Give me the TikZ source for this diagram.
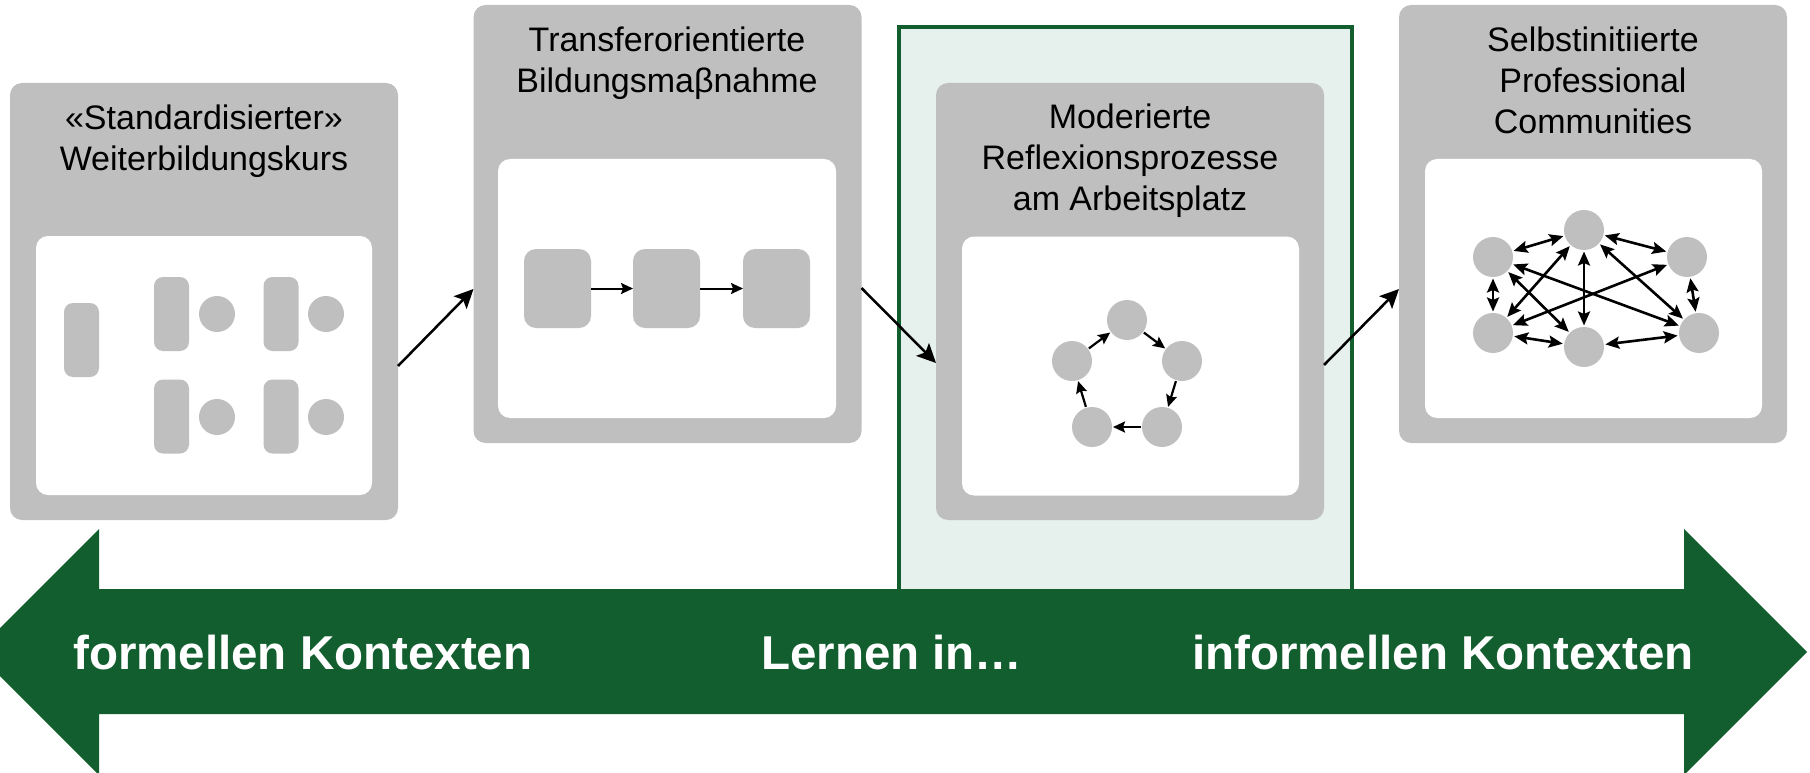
\documentclass[tikz,border=0pt]{standalone}
\usepackage{fontspec}
\setmainfont{Liberation Sans}
\usetikzlibrary{arrows.meta,calc,shapes.geometric}
\definecolor{boxgray}{RGB}{191,191,191}
\definecolor{dkgreen}{RGB}{18,94,47}
\definecolor{mint}{RGB}{230,240,236}
\begin{document}
\begin{tikzpicture}[x=1pt,y=-1pt,
  outerbox/.style={rectangle, fill=boxgray, rounded corners=12pt, inner sep=0, outer sep=0, minimum width=388pt},
  innerbox/.style={rectangle, fill=white, rounded corners=12pt, inner sep=0, outer sep=0},
  boxtitle/.style={inner sep=0, align=center, anchor=north, text=black, font=\fontsize{34}{41}\selectfont},
  pill/.style={rectangle, fill=boxgray, rounded corners=9pt, inner sep=0, outer sep=0},
  graydot/.style={circle, fill=boxgray, inner sep=0, outer sep=0, minimum size=36pt},
  pentnode/.style={circle, fill=boxgray, inner sep=0, outer sep=1pt, minimum size=40pt},
  netnode/.style={circle, fill=boxgray, inner sep=0, outer sep=1.5pt, minimum size=40pt},
  bigarrow/.style={line width=2.5pt, -{Stealth[length=19pt,width=18pt,inset=4pt]}},
  smallarrow/.style={line width=2pt, -{Stealth[length=12pt,width=11pt,inset=2pt]}},
  pentarrow/.style={line width=2.2pt, -{Stealth[length=12pt,width=11pt,inset=2pt]}},
  netarrow/.style={line width=2.6pt, {Stealth[length=14pt,width=12pt,inset=2.5pt]}-{Stealth[length=14pt,width=12pt,inset=2.5pt]}},
  bandtext/.style={inner sep=0, anchor=base west, text=white, font=\bfseries\fontsize{47.5}{50}\selectfont}
]
\useasboundingbox (0,0) rectangle (1810,773);
\clip (0,0) rectangle (1810,773);

% highlighted focus area
\node[rectangle, draw=dkgreen, line width=3.5pt, fill=mint, inner sep=0, outer sep=0,
      minimum width=453pt, minimum height=577pt] (focus) at (1125.5,315.5) {};

% box 1
\node[outerbox, minimum height=437pt] (b1) at (204,301.5) {};
\node[innerbox, minimum width=336pt, minimum height=259pt] (w1) at (204,365.5) {};
\node[boxtitle] (t1) at (204,105) {«Standardisierter»\\Weiterbildungskurs};
\node[pill, minimum width=35pt, minimum height=74pt] (p0) at (81.5,340) {};
\node[pill, minimum width=35pt, minimum height=74pt] (p1) at (171.5,314) {};
\node[pill, minimum width=35pt, minimum height=74pt] (p2) at (281,314) {};
\node[pill, minimum width=35pt, minimum height=74pt] (p3) at (171.5,416.5) {};
\node[pill, minimum width=35pt, minimum height=74pt] (p4) at (281,416.5) {};
\node[graydot] (c1) at (217,314) {};
\node[graydot] (c2) at (326,314) {};
\node[graydot] (c3) at (217,417) {};
\node[graydot] (c4) at (326,417) {};

% box 2
\node[outerbox, minimum height=438pt] (b2) at (667.5,224) {};
\node[innerbox, minimum width=338pt, minimum height=259pt] (w2) at (667,288.5) {};
\node[boxtitle] (t2) at (667,27) {Transferorientierte\\Bildungsmaβnahme};
\node[pill, minimum width=67pt, minimum height=79pt, rounded corners=12pt] (q1) at (557.5,288.5) {};
\node[pill, minimum width=67pt, minimum height=79pt, rounded corners=12pt] (q2) at (666.5,288.5) {};
\node[pill, minimum width=67pt, minimum height=79pt, rounded corners=12pt] (q3) at (776.5,288.5) {};
\draw[smallarrow] (q1.east) -- (q2.west);
\draw[smallarrow] (q2.east) -- (q3.west);

% box 3
\node[outerbox, minimum height=437pt] (b3) at (1130,301.5) {};
\node[innerbox, minimum width=337pt, minimum height=259pt] (w3) at (1130.5,366) {};
\node[boxtitle] (t3) at (1130,104) {Moderierte\\Reflexionsprozesse\\am Arbeitsplatz};
\node[pentnode] (e1) at (1127,320) {};
\node[pentnode] (e2) at (1182,361) {};
\node[pentnode] (e3) at (1162,427) {};
\node[pentnode] (e4) at (1092,427) {};
\node[pentnode] (e5) at (1072,361) {};
\draw[pentarrow] (e5) -- (e1);
\draw[pentarrow] (e1) -- (e2);
\draw[pentarrow] (e2) -- (e3);
\draw[pentarrow] (e3) -- (e4);
\draw[pentarrow] (e4) -- (e5);

% box 4
\node[outerbox, minimum height=438pt] (b4) at (1593,224) {};
\node[innerbox, minimum width=337pt, minimum height=259pt] (w4) at (1593.5,288.5) {};
\node[boxtitle] (t4) at (1593,27) {Selbstinitiierte\\Professional\\Communities};
\node[netnode] (na) at (1493,257) {};
\node[netnode] (nb) at (1584,230) {};
\node[netnode] (nc) at (1687,257) {};
\node[netnode] (nd) at (1493,333) {};
\node[netnode] (ne) at (1584,347) {};
\node[netnode] (nf) at (1699,333) {};
\draw[netarrow] (na) -- (nb);
\draw[netarrow] (nb) -- (nc);
\draw[netarrow] (na) -- (nd);
\draw[netarrow] (nb) -- (ne);
\draw[netarrow] (nc) -- (nf);
\draw[netarrow] (nd) -- (ne);
\draw[netarrow] (ne) -- (nf);
\draw[netarrow] (na) -- (ne);
\draw[netarrow] (na) -- (nf);
\draw[netarrow] (nd) -- (nb);
\draw[netarrow] (nd) -- (nc);
\draw[netarrow] (nb) -- (nf);

% connectors between boxes
\draw[bigarrow] (b1.east |- 0,366) -- (b2.west |- 0,289);
\draw[bigarrow] (b2.east |- 0,288) -- (b3.west |- 0,363);
\draw[bigarrow] (b3.east |- 0,365) -- (b4.west |- 0,289);

% double-headed band
\fill[dkgreen] (99,529) -- (99,589) -- (1684,589) -- (1684,529) -- (1807,652)
  -- (1684,775) -- (1684,714) -- (99,714) -- (99,775) -- (-24,652) -- cycle;
\node[bandtext] (lf) at (73,669) {formellen Kontexten};
\node[bandtext] (lm) at (761,669) {Lernen in…};
\node[bandtext] (li) at (1192,669) {informellen Kontexten};
\end{tikzpicture}
\end{document}
